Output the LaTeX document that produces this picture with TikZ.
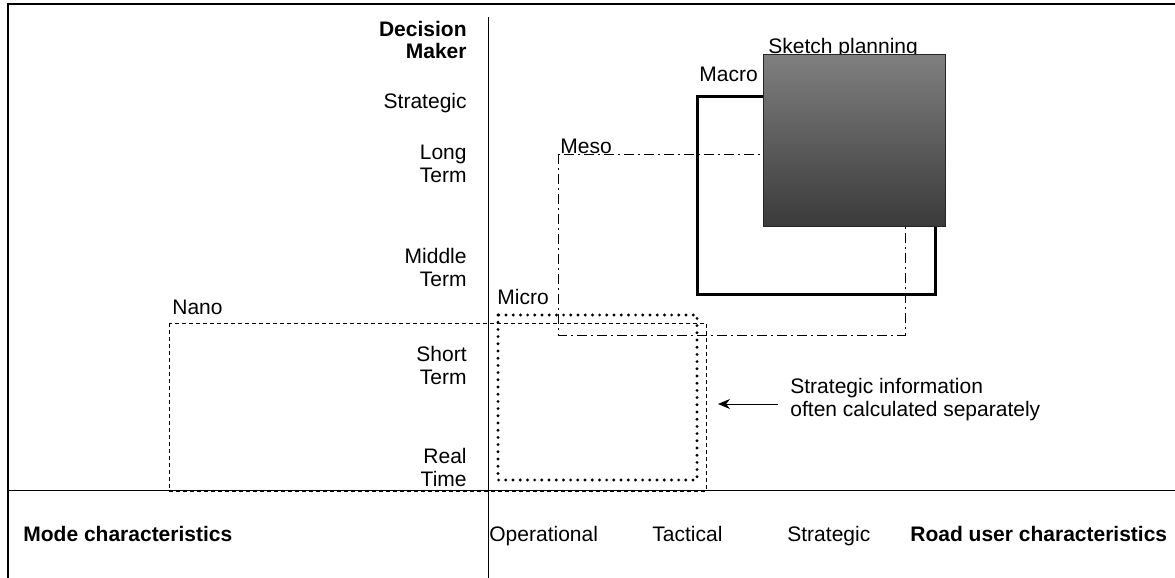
\documentclass[tikz,border=0pt]{standalone}
\usepackage{fontspec}
\setmainfont{Liberation Sans}
\usetikzlibrary{arrows.meta}

\begin{document}
\begin{tikzpicture}[x=0.5pt, y=-0.5pt, font=\fontsize{10.5}{11.5}\selectfont,
                    label node/.style={anchor=base west, inner sep=0pt},
                    axis node/.style={anchor=base east, inner sep=0pt, align=right},
                    scale node/.style={anchor=base west, inner sep=0pt},
                    macro box/.style={draw, line width=1.5pt},
                    meso box/.style={draw, line width=0.5pt, dash pattern=on 5pt off 2pt on 1pt off 2pt},
                    micro box/.style={draw, line width=1.6pt, line cap=round, dash pattern=on 0pt off 3.6pt},
                    nano box/.style={draw, line width=0.5pt, dash pattern=on 2pt off 1.5pt}]

\useasboundingbox (0,0) rectangle (1175,578);

% frame and axes
\draw[line width=1pt] (8,578) -- (8,4) -- (1175,4);
\draw[line width=0.5pt] (488,17) -- (488,578);
\draw[line width=0.5pt] (8,490) -- (1175,490);

% decision maker axis (base = last line)
\node[axis node, font=\fontsize{10.5}{11.5}\selectfont\bfseries] (dm) at (467,59) {Decision\\Maker};
\node[axis node] (strat) at (467,108) {Strategic};
\node[axis node] (long) at (467,182) {Long\\Term};
\node[axis node] (middle) at (467,286) {Middle\\Term};
\node[axis node] (short) at (467,384) {Short\\Term};
\node[axis node] (real) at (467,486) {Real\\Time};

% bottom scale
\node[scale node, font=\fontsize{10.5}{11.5}\selectfont\bfseries] (mode) at (23,541) {Mode characteristics};
\node[scale node] (oper) at (489,541) {Operational};
\node[scale node] (tact) at (652,541) {Tactical};
\node[scale node] (strategic) at (787,541) {Strategic};
\node[scale node, font=\fontsize{10.5}{11.5}\selectfont\bfseries] (road) at (910,541) {Road user characteristics};

% model levels
\node[label node] (nanol) at (172,314) {Nano};
\node[label node] (microl) at (497,304) {Micro};
\node[label node] (mesol) at (560,153) {Meso};
\node[label node] (macrol) at (699,82) {Macro};
\node[label node] (sketchl) at (768,54) {Sketch planning};

\draw[nano box] (169,323) rectangle (706,491);
\draw[meso box] (558,154) rectangle (905,335);
\draw[macro box] (697,96) rectangle (935,294);
\draw[draw=black!85, line width=0.5pt, top color=black!50, bottom color=black!77] (763,54) rectangle (945,226);
\draw[micro box] (498,315) rectangle (697,480);

% note
\node[label node, align=left] (note) at (790,416) {Strategic information\\often calculated separately};
\coordinate (tip) at (718,404);
\draw[-{Stealth[length=6pt, width=5pt]}, line width=0.5pt] (note.west |- tip) ++(-12,0) -- (tip);

\end{tikzpicture}
\end{document}
